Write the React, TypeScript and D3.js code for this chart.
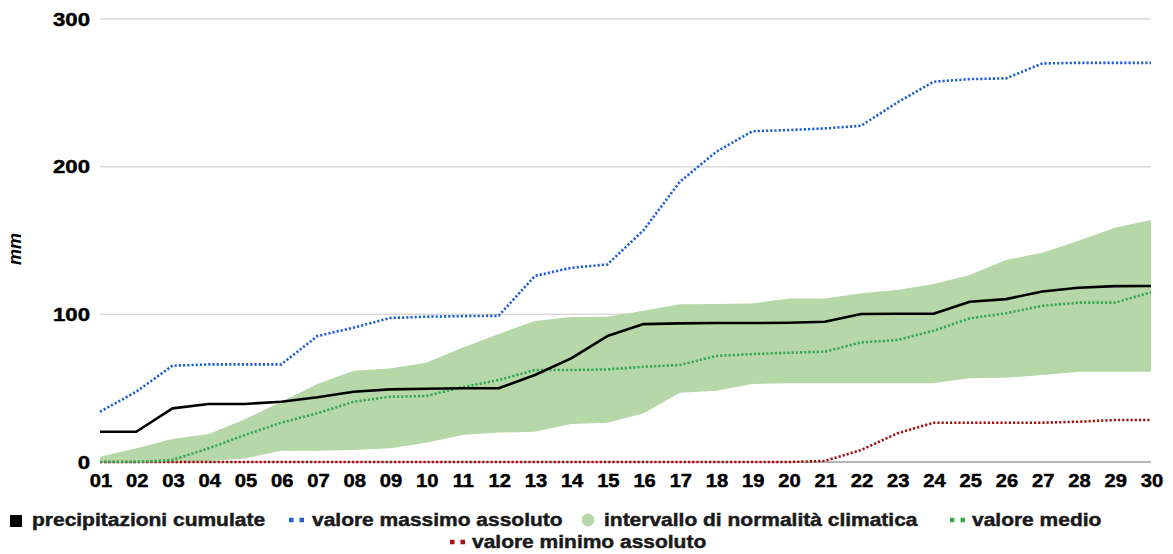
import React, { useEffect, useRef } from "react";
import * as d3 from "d3";

const days = ["01","02","03","04","05","06","07","08","09","10","11","12","13","14","15","16","17","18","19","20","21","22","23","24","25","26","27","28","29","30"];
const cumulate = [20.5,20.5,36.3,39.3,39.3,40.8,43.8,47.6,49.2,49.6,49.9,49.9,58.9,70.2,85.3,93.4,93.9,94.1,94.1,94.3,95,100.2,100.4,100.4,108.5,110.3,115.5,118,119.1,119.2];
const massimo = [34,47.6,65.2,66.1,66.1,66.1,85.3,91,97.5,98.4,98.8,99,126,131.5,133.8,157,189.8,210,224,224.8,225.9,227.7,243.5,257.5,259.3,259.8,269.9,270.3,270.3,270.3];
const normUpper = [3.6,9.3,15.6,19,28.9,40.8,52.8,61.8,63.4,67.2,77.4,86.7,95.5,98.2,98.4,102.5,106.8,107,107.4,110.8,110.8,114.2,116.5,120.5,126.6,136.8,141.7,149.8,158.6,163.8];
const normLower = [0,0,0.4,0.7,2.3,7.7,7.7,8.1,9.3,13.1,18.3,19.9,20.5,25.7,26.6,33,46.9,48.3,52.8,53.3,53.3,53.3,53.3,53.3,56.7,57.1,58.9,61.1,61.1,61.1];
const medio = [0,0,1.4,9.3,18.3,26.6,33,40.8,44.2,44.7,50.6,55.5,62.3,62.3,62.7,64.5,65.7,71.8,73.1,74,74.7,81,82.6,88.9,97.3,100.7,105.8,107.9,107.9,114.9];
const minimo = [0,0,0,0,0,0,0,0,0,0,0,0,0,0,0,0,0,0,0,0,0.7,8.1,19.4,26.6,26.6,26.6,26.6,27.3,28.4,28.4];
const yTicks = [0, 100, 200, 300];
const legendLabels = ["precipitazioni cumulate", "valore massimo assoluto", "intervallo di normalità climatica", "valore medio", "valore minimo assoluto"];

const W = 1173, H = 554;
const BLUE = "#1f5fd6", GREEN = "#34a853", RED = "#a50f0f", BAND = "#b6d7a8";

export default function App() {
  const ref = useRef<SVGSVGElement>(null);
  useEffect(() => {
    const svg = d3.select(ref.current);
    svg.selectAll("*").remove();
    const x = d3.scalePoint<string>().domain(days).range([100, 1151]);
    const y = d3.scaleLinear().domain([0, 300]).range([462, 19]);
    const font = "'Liberation Sans', Arial, sans-serif";
    const stretch = (sel: any, k: number) => {
      sel.each(function (this: SVGTextElement) {
        const w = this.getComputedTextLength();
        d3.select(this).attr("textLength", w * k).attr("lengthAdjust", "spacingAndGlyphs");
      });
    };

    // gridlines
    svg.append("g").selectAll("line").data(yTicks).join("line")
      .attr("x1", 100).attr("x2", 1151)
      .attr("y1", d => y(d)).attr("y2", d => y(d))
      .attr("stroke", d => d === 0 ? "#9e9e9e" : "#d9d9d9").attr("stroke-width", 1.5);

    // y labels
    const yl = svg.append("g").selectAll("text").data(yTicks).join("text")
      .attr("x", 90).attr("y", d => y(d)).attr("dy", "0.36em")
      .attr("text-anchor", "end").attr("font-family", font).attr("font-weight", "bold")
      .attr("font-size", 18.6).attr("fill", "#000").attr("stroke", "#000").attr("stroke-width", 0.45)
      .text(d => String(d));
    stretch(yl, 1.19);

    // x labels
    const xl = svg.append("g").selectAll("text").data(days).join("text")
      .attr("x", d => x(d)! + 1).attr("y", 487)
      .attr("text-anchor", "middle").attr("font-family", font).attr("font-weight", "bold")
      .attr("font-size", 18).attr("fill", "#000").attr("stroke", "#000").attr("stroke-width", 0.45)
      .text(d => d);
    stretch(xl, 1.12);

    // y axis title
    svg.append("text").attr("transform", "translate(21,249) rotate(-90)")
      .attr("text-anchor", "middle").attr("font-family", font).attr("font-weight", "bold")
      .attr("font-style", "italic").attr("font-size", 18).attr("fill", "#000").text("mm");

    // band
    const area = d3.area<number>().x((_, i) => x(days[i])!).y0((_, i) => y(normLower[i])).y1(d => y(d));
    svg.append("path").datum(normUpper).attr("d", area).attr("fill", BAND);

    const line = d3.line<number>().x((_, i) => x(days[i])!).y(d => y(d));
    const dotted = (data: number[], color: string) =>
      svg.append("path").datum(data).attr("d", line).attr("fill", "none")
        .attr("stroke", color).attr("stroke-width", 2.6).attr("stroke-dasharray", "2.2,2");

    dotted(minimo, RED);
    dotted(medio, GREEN);
    dotted(massimo, BLUE);
    svg.append("path").datum(cumulate).attr("d", line).attr("fill", "none")
      .attr("stroke", "#000").attr("stroke-width", 2.6).attr("stroke-linejoin", "round");

    // legend
    const lg = svg.append("g").attr("font-family", font).attr("font-weight", "bold")
      .attr("font-size", 18).attr("fill", "#1a1a1a").attr("stroke", "#1a1a1a").attr("stroke-width", 0.45);
    const row1 = 526, row2 = 548;
    const legText = (tx: number, ty: number, s: string) => {
      const t = lg.append("text").attr("x", tx).attr("y", ty).text(s);
      stretch(t, 1.165);
    };
    const legDots = (x0: number, yy: number, color: string) =>
      lg.append("line").attr("x1", x0).attr("x2", x0 + 16).attr("y1", yy).attr("y2", yy)
        .attr("stroke", color).attr("stroke-width", 4.5).attr("stroke-dasharray", "4.5,6");
    lg.append("rect").attr("x", 10).attr("y", 515).attr("width", 12).attr("height", 12)
      .attr("fill", "#000").attr("stroke", "none");
    legText(32, row1, legendLabels[0]);
    legDots(289, row1 - 6, BLUE);
    legText(312, row1, legendLabels[1]);
    lg.append("circle").attr("cx", 588).attr("cy", row1 - 6).attr("r", 6.5).attr("fill", BAND).attr("stroke", "none");
    legText(604, row1, legendLabels[2]);
    legDots(950, row1 - 6, GREEN);
    legText(972, row1, legendLabels[3]);
    legDots(450, row2 - 6, RED);
    legText(472, row2, legendLabels[4]);
  }, []);
  return (
    <svg ref={ref} width={W} height={H} style={{ position: "absolute", left: 0, top: 0, background: "#fff" }} />
  );
}
